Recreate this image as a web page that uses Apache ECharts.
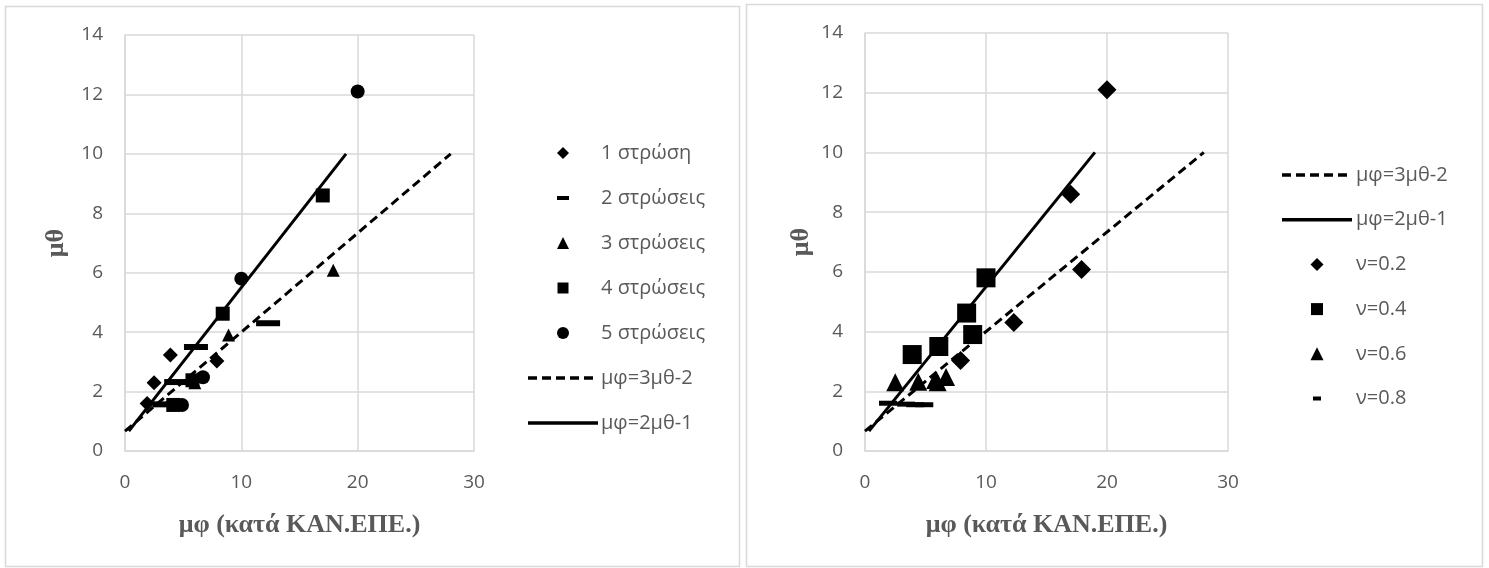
<!DOCTYPE html>
<html>
<head>
<meta charset="utf-8">
<script src="https://cdn.jsdelivr.net/npm/echarts@6/dist/echarts.min.js"></script>
<style>
  html, body { margin: 0; padding: 0; background: #fff; }
  #chart { width: 1489px; height: 568px; }
</style>
</head>
<body>
<div id="chart"></div>
<script>
// Left panel: measured points (μφ, μθ) grouped by number of layers
const layer1 = [[1.9, 1.6], [2.5, 2.3], [3.9, 3.23], [7.9, 3.03]];
const layer2 = [[3.4, 1.57], [4.4, 2.32], [6.1, 3.5], [12.3, 4.3]];
const layer3 = [[6.0, 2.3], [8.9, 3.9], [17.9, 6.08]];
const layer4 = [[4.15, 1.55], [5.8, 2.38], [8.4, 4.62], [17.0, 8.6]];
const layer5 = [[4.9, 1.55], [6.7, 2.48], [10.0, 5.8], [20.0, 12.1]];

// Right panel: the same points grouped by ν
const nu02 = [[7.9, 3.03], [12.3, 4.3], [17.9, 6.08], [17.0, 8.6], [20.0, 12.1]];
const nu04 = [[3.9, 3.23], [6.1, 3.5], [8.9, 3.9], [8.4, 4.62], [10.0, 5.8]];
const nu06 = [[2.5, 2.3], [4.4, 2.32], [6.0, 2.3], [5.8, 2.38], [6.7, 2.48]];
const nu08 = [[1.9, 1.6], [3.4, 1.57], [4.15, 1.55], [4.9, 1.55]];

// Design lines μφ=3μθ-2 and μφ=2μθ-1
const line3 = [[0, 0.667], [28, 10]];
const line2 = [[0.33, 0.667], [19, 10]];

// Axis ranges and tick steps
const xTicks = { min: 0, max: 30, interval: 10 };
const yTicks = { min: 0, max: 14, interval: 2 };

const layerNames = ['1 στρώση', '2 στρώσεις', '3 στρώσεις', '4 στρώσεις', '5 στρώσεις'];
const nuNames = ['ν=0.2', 'ν=0.4', 'ν=0.6', 'ν=0.8'];
const lineNames = ['μφ=3μθ-2', 'μφ=2μθ-1'];
const axisTitleX = 'μφ (κατά ΚΑΝ.ΕΠΕ.)';
const axisTitleY = 'μθ';

const GRAY = '#595959';
const GRID = '#d9d9d9';
const TICK_FONT = "'Open Sans', 'Noto Sans', sans-serif";
const TITLE_FONT = "'Liberation Serif', 'DejaVu Serif', serif";
const DASH = [9, 5];

function xAxisFor(gridIndex) {
  return {
    gridIndex, type: 'value', ...xTicks,
    name: axisTitleX, nameLocation: 'middle', nameGap: 61,
    nameTextStyle: { fontFamily: TITLE_FONT, fontWeight: 'bold', fontSize: 26, color: GRAY },
    axisLine: { show: true, lineStyle: { color: GRID, width: 1.5 } },
    axisTick: { show: false },
    axisLabel: { color: GRAY, fontSize: 19, fontFamily: TICK_FONT, margin: 22 },
    splitLine: { show: true, lineStyle: { color: GRID, width: 1.5 } }
  };
}
function yAxisFor(gridIndex, gap) {
  return {
    gridIndex, type: 'value', ...yTicks,
    name: axisTitleY, nameLocation: 'middle', nameRotate: 90, nameGap: gap,
    nameTextStyle: { fontFamily: TITLE_FONT, fontWeight: 'bold', fontSize: 26, color: GRAY },
    axisLine: { show: true, lineStyle: { color: GRID, width: 1.5 } },
    axisTick: { show: false },
    axisLabel: { color: GRAY, fontSize: 19, fontFamily: TICK_FONT, margin: 22 },
    splitLine: { show: true, lineStyle: { color: GRID, width: 1.5 } }
  };
}

function scatter(name, data, idx, symbol, size) {
  return {
    type: 'scatter', name, data, xAxisIndex: idx, yAxisIndex: idx,
    symbol, symbolSize: size,
    itemStyle: { color: '#000', opacity: 1 },
    emphasis: { disabled: true }, silent: true, z: 2
  };
}
function refLine(name, data, idx, dashed) {
  return {
    type: 'line', name, data, xAxisIndex: idx, yAxisIndex: idx,
    symbol: 'none', showSymbol: false,
    lineStyle: { color: '#000', width: 3, type: dashed ? DASH : 'solid' },
    itemStyle: { color: '#000' },
    emphasis: { disabled: true }, silent: true, z: 3
  };
}

// Key drawn as graphic elements: a 70px sample column followed by the label
function legendKey(items, x0, y0, pitch, textX) {
  const out = [];
  const cx = x0 + 35;
  items.forEach((it, i) => {
    const cy = y0 + i * pitch;
    const h = (it.size || 0) / 2;
    const fill = { fill: '#000' };
    if (it.kind === 'line') {
      out.push({ type: 'line', silent: true,
        shape: { x1: x0, y1: cy, x2: x0 + 70, y2: cy },
        style: { stroke: '#000', lineWidth: 3.5, lineDash: it.dashed ? DASH : null } });
    } else if (it.kind === 'diamond') {
      out.push({ type: 'polygon', silent: true,
        shape: { points: [[cx, cy - h], [cx + h, cy], [cx, cy + h], [cx - h, cy]] }, style: fill });
    } else if (it.kind === 'triangle') {
      out.push({ type: 'polygon', silent: true,
        shape: { points: [[cx, cy - h], [cx + h, cy + h], [cx - h, cy + h]] }, style: fill });
    } else if (it.kind === 'square') {
      out.push({ type: 'rect', silent: true,
        shape: { x: cx - h, y: cy - h, width: 2 * h, height: 2 * h }, style: fill });
    } else if (it.kind === 'circle') {
      out.push({ type: 'circle', silent: true, shape: { cx, cy, r: h }, style: fill });
    } else if (it.kind === 'dash') {
      out.push({ type: 'rect', silent: true,
        shape: { x: cx - it.w / 2, y: cy - it.h / 2, width: it.w, height: it.h }, style: fill });
    }
    out.push({ type: 'text', silent: true,
      style: { text: it.name, x: textX, y: cy, fill: GRAY, fontSize: 20,
               fontFamily: TICK_FONT, verticalAlign: 'middle', align: 'left' } });
  });
  return out;
}

const leftKey = legendKey([
  { name: layerNames[0], kind: 'diamond', size: 12 },
  { name: layerNames[1], kind: 'dash', w: 12, h: 4 },
  { name: layerNames[2], kind: 'triangle', size: 12 },
  { name: layerNames[3], kind: 'square', size: 11 },
  { name: layerNames[4], kind: 'circle', size: 12 },
  { name: lineNames[0], kind: 'line', dashed: true },
  { name: lineNames[1], kind: 'line', dashed: false }
], 528, 153, 45, 601);

const rightKey = legendKey([
  { name: lineNames[0], kind: 'line', dashed: true },
  { name: lineNames[1], kind: 'line', dashed: false },
  { name: nuNames[0], kind: 'diamond', size: 13 },
  { name: nuNames[1], kind: 'square', size: 12 },
  { name: nuNames[2], kind: 'triangle', size: 13 },
  { name: nuNames[3], kind: 'dash', w: 8, h: 4 }
], 1282, 175, 44.7, 1356);

const option = {
  animation: false,
  graphic: [
    { type: 'rect', silent: true, shape: { x: 5.5, y: 6.5, width: 734, height: 560 },
      style: { fill: 'none', stroke: GRID, lineWidth: 1.5 } },
    { type: 'rect', silent: true, shape: { x: 746.5, y: 4.5, width: 736, height: 562 },
      style: { fill: 'none', stroke: GRID, lineWidth: 1.5 } },
    ...leftKey,
    ...rightKey
  ],
  grid: [
    { left: 125, top: 35, width: 349, height: 416 },
    { left: 865, top: 33, width: 363, height: 418 }
  ],
  xAxis: [xAxisFor(0), xAxisFor(1)],
  yAxis: [yAxisFor(0, 56), yAxisFor(1, 51)],
  series: [
    scatter(layerNames[0], layer1, 0, 'diamond', 15),
    scatter(layerNames[1], layer2, 0, 'rect', [24, 6]),
    scatter(layerNames[2], layer3, 0, 'triangle', 13),
    scatter(layerNames[3], layer4, 0, 'rect', 14),
    scatter(layerNames[4], layer5, 0, 'circle', 14),
    refLine(lineNames[0], line3, 0, true),
    refLine(lineNames[1], line2, 0, false),

    scatter(nuNames[0], nu02, 1, 'diamond', 19),
    scatter(nuNames[1], nu04, 1, 'rect', 19),
    scatter(nuNames[2], nu06, 1, 'triangle', 18),
    scatter(nuNames[3], nu08, 1, 'rect', [18, 5]),
    refLine(lineNames[0], line3, 1, true),
    refLine(lineNames[1], line2, 1, false)
  ]
};

const chart = echarts.init(document.getElementById('chart'), null, { renderer: 'canvas' });
chart.setOption(option);
</script>
</body>
</html>
